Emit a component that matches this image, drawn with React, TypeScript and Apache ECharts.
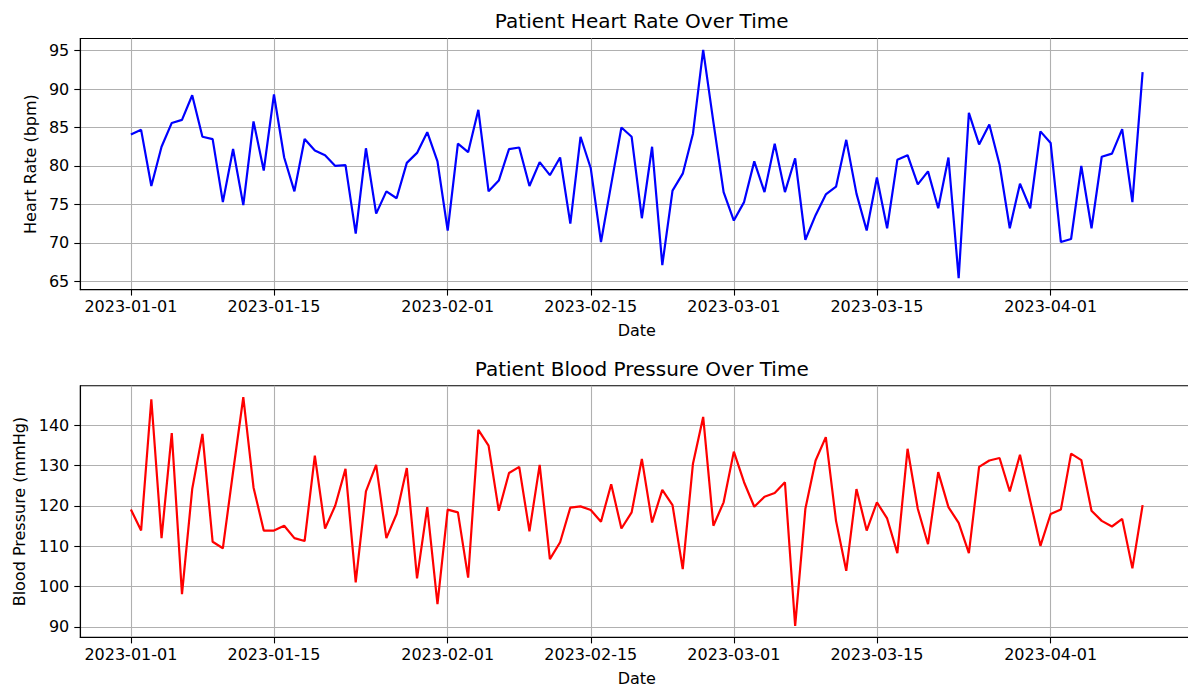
import React, { useEffect, useRef } from 'react';
import * as echarts from 'echarts';

const startDate = '2023-01-01';

const heartRate = [
  84.1, 84.7, 77.4, 82.5, 85.6, 86.0, 89.2, 83.8, 83.5, 75.3,
  82.2, 74.9, 85.8, 79.4, 89.3, 81.1, 76.7, 83.5, 82.0, 81.4,
  80.0, 80.1, 71.2, 82.3, 73.8, 76.7, 75.8, 80.4, 81.7, 84.4,
  80.6, 71.6, 82.9, 81.8, 87.3, 76.7, 78.1, 82.2, 82.4, 77.4,
  80.5, 78.8, 81.1, 72.5, 83.8, 79.7, 70.1, 77.6, 85.0, 83.8,
  73.2, 82.5, 67.1, 76.8, 79.0, 84.2, 95.1, 85.7, 76.6, 72.9,
  75.3, 80.6, 76.6, 82.9, 76.6, 81.0, 70.4, 73.6, 76.3, 77.3,
  83.4, 76.4, 71.6, 78.5, 71.9, 80.8, 81.4, 77.6, 79.3, 74.5,
  81.1, 65.4, 86.9, 82.8, 85.4, 80.2, 71.9, 77.7, 74.5, 84.5,
  83.0, 70.1, 70.5, 80.0, 71.9, 81.2, 81.6, 84.8, 75.3, 92.2,
];

const bloodPressure = [
  119.1, 113.9, 146.5, 112.0, 138.1, 98.1, 124.2, 137.9, 111.1, 109.5,
  128.5, 147.0, 124.6, 113.9, 113.9, 115.1, 112.0, 111.3, 132.5, 114.4,
  120.1, 129.2, 101.0, 123.6, 130.2, 112.0, 118.0, 129.4, 102.0, 119.7,
  95.6, 119.1, 118.4, 102.2, 138.9, 135.0, 118.8, 128.2, 129.7, 113.7,
  130.2, 106.8, 111.0, 119.6, 119.9, 119.0, 116.1, 125.4, 114.4, 118.4,
  131.7, 115.9, 124.0, 120.2, 104.3, 130.5, 142.1, 115.1, 120.9, 133.5,
  125.9, 119.8, 122.3, 123.2, 125.9, 90.2, 119.3, 131.3, 137.1, 116.3,
  103.9, 124.2, 113.9, 120.9, 116.9, 108.3, 134.2, 119.3, 110.5, 128.4,
  119.7, 115.8, 108.3, 129.7, 131.3, 131.9, 123.6, 132.7, 121.3, 110.1,
  118.0, 119.1, 133.0, 131.4, 118.8, 116.3, 114.9, 116.8, 104.5, 120.2,
];

const dateTickLabels = ['2023-01-01', '2023-01-15', '2023-02-01', '2023-02-15', '2023-03-01', '2023-03-15', '2023-04-01'];
const heartRateTicks = [65, 70, 75, 80, 85, 90, 95];
const bloodPressureTicks = [90, 100, 110, 120, 130, 140];

const DAY = 86400000;
const t0 = Date.parse(startDate + 'T00:00:00Z');
const dayOf = (d: string) => Math.round((Date.parse(d + 'T00:00:00Z') - t0) / DAY);
const labelOf = (v: number) => new Date(t0 + Math.round(v) * DAY).toISOString().slice(0, 10);
const xTicks = dateTickLabels.map(dayOf);

const FONT = 'DejaVu Sans';

function pad(vals: number[]) {
  const lo = Math.min(...vals);
  const hi = Math.max(...vals);
  const m = (hi - lo) * 0.05;
  return { min: lo - m, max: hi + m };
}

export default function App() {
  const ref = useRef<HTMLDivElement>(null);
  useEffect(() => {
    if (!ref.current) return;
    const chart = echarts.init(ref.current, undefined, { renderer: 'svg' });
    const n = heartRate.length;
    const xMin = -(n - 1) * 0.05;
    const xMax = (n - 1) * 1.05;
    const hr = pad(heartRate);
    const bp = pad(bloodPressure);

    const grids = [
      { left: 80.3, top: 38.5, width: 1112.9, height: 251.1 },
      { left: 80.3, top: 385.8, width: 1112.9, height: 251.6 },
    ];

    const xAxis = (gi: number) => ({
      type: 'value',
      gridIndex: gi,
      min: xMin,
      max: xMax,
      name: 'Date',
      nameLocation: 'middle',
      nameGap: 34,
      nameTextStyle: { fontFamily: FONT, fontSize: 16, lineHeight: 14, color: '#000' },
      axisLine: { show: true, onZero: false, lineStyle: { color: '#000', width: 1.1 } },
      axisTick: { show: true, length: 6, customValues: xTicks, lineStyle: { color: '#000', width: 1.1 } },
      axisLabel: {
        customValues: xTicks,
        formatter: (v: number) => labelOf(v),
        fontFamily: FONT,
        fontSize: 16,
        color: '#000',
        margin: 9,
      },
      splitLine: { show: true, lineStyle: { color: '#b0b0b0', width: 1.1 } },
    });

    const yAxis = (gi: number, r: { min: number; max: number }, ticks: number[], name: string, gap: number) => ({
      type: 'value',
      gridIndex: gi,
      min: r.min,
      max: r.max,
      name,
      nameLocation: 'middle',
      nameGap: gap,
      nameTextStyle: { fontFamily: FONT, fontSize: 16, color: '#000' },
      axisLine: { show: true, onZero: false, lineStyle: { color: '#000', width: 1.1 } },
      axisTick: { show: true, length: 6, customValues: ticks, lineStyle: { color: '#000', width: 1.1 } },
      axisLabel: {
        customValues: ticks,
        fontFamily: FONT,
        fontSize: 16,
        color: '#000',
        margin: 11,
      },
      splitLine: { show: true, lineStyle: { color: '#b0b0b0', width: 1.1 } },
    });

    chart.setOption({
      animation: false,
      backgroundColor: '#fff',
      title: [
        {
          text: 'Patient Heart Rate Over Time',
          left: 636.7,
          top: 6,
          textAlign: 'center',
          textStyle: { fontFamily: FONT, fontSize: 20, fontWeight: 'normal', color: '#000' },
        },
        {
          text: 'Patient Blood Pressure Over Time',
          left: 636.7,
          top: 353.5,
          textAlign: 'center',
          textStyle: { fontFamily: FONT, fontSize: 20, fontWeight: 'normal', color: '#000' },
        },
      ],
      grid: grids.map((g) => ({
        ...g,
        show: true,
        containLabel: false,
        outerBoundsMode: 'none',
        borderColor: '#000',
        borderWidth: 1.1,
        backgroundColor: 'transparent',
      })),
      xAxis: [xAxis(0), xAxis(1)],
      yAxis: [
        yAxis(0, hr, heartRateTicks, 'Heart Rate (bpm)', 42),
        yAxis(1, bp, bloodPressureTicks, 'Blood Pressure (mmHg)', 53),
      ],
      series: [
        {
          type: 'line',
          xAxisIndex: 0,
          yAxisIndex: 0,
          data: heartRate.map((v, i) => [i, v]),
          showSymbol: false,
          lineStyle: { color: '#0000ff', width: 2.2 },
          itemStyle: { color: '#0000ff' },
        },
        {
          type: 'line',
          xAxisIndex: 1,
          yAxisIndex: 1,
          data: bloodPressure.map((v, i) => [i, v]),
          showSymbol: false,
          lineStyle: { color: '#ff0000', width: 2.2 },
          itemStyle: { color: '#ff0000' },
        },
      ],
    });
    return () => chart.dispose();
  }, []);
  return <div ref={ref} style={{ position: 'absolute', left: 0, top: 0, width: 1188, height: 686 }} />;
}
